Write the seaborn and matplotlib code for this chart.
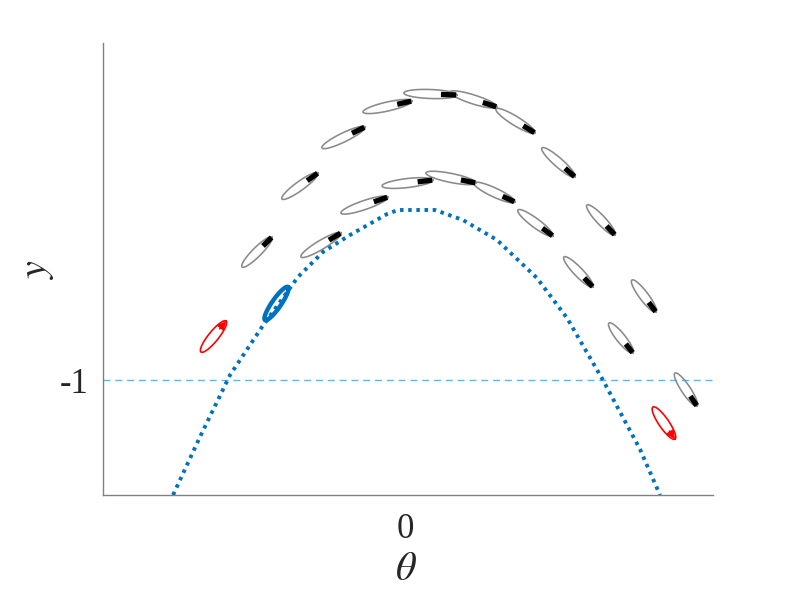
import numpy as np
import pandas as pd
import matplotlib
matplotlib.use("Agg")
import matplotlib.pyplot as plt
import seaborn as sns

# dotted trajectory (theta, y)
curve_theta = [-1.536, -1.358, -1.159, -0.947, -0.709, -0.543, -0.364, -0.119,
               -0.046, 0.199, 0.384, 0.609, 0.874, 1.073, 1.311, 1.556, 1.689]
curve_y = [-1.676, -1.335, -0.971, -0.688, -0.394, -0.247, -0.147, -0.024,
           0.0, 0.0, -0.059, -0.176, -0.400, -0.635, -1.0, -1.406, -1.676]

# gray ellipses: tail end -> black tip end
outer_tail = [(-1.079, -0.335), (-0.815, 0.065), (-0.550, 0.365), (-0.278, 0.576),
              (-0.007, 0.688), (0.298, 0.694), (0.603, 0.594), (0.907, 0.365),
              (1.205, 0.029), (1.503, -0.412), (1.788, -0.959)]
outer_head = [(-0.881, -0.159), (-0.576, 0.218), (-0.265, 0.488), (0.046, 0.641),
              (0.344, 0.676), (0.609, 0.606), (0.861, 0.453), (1.126, 0.194),
              (1.391, -0.147), (1.662, -0.600), (1.934, -1.153)]
inner_tail = [(-0.689, -0.276), (-0.424, -0.018), (-0.152, 0.141), (0.139, 0.218),
              (0.457, 0.159), (0.748, 0.0), (1.053, -0.276), (1.351, -0.665)]
inner_head = [(-0.424, -0.135), (-0.113, 0.076), (0.185, 0.176), (0.470, 0.159),
              (0.728, 0.047), (0.980, -0.153), (1.245, -0.453), (1.510, -0.841)]

# red orbits with direction arrows, blue orbit on the curve
red_tail = [(-1.351, -0.835), (1.642, -1.159)]
red_head = [(-1.185, -0.653), (1.788, -1.347)]
blue_tail = (-0.927, -0.647)
blue_head = (-0.775, -0.453)

y_level = -1.0
x_ticks = [0]
x_ticklabels = ["0"]
y_ticks = [-1]
y_ticklabels = ["-1"]

sns.set_style("white")
plt.rcParams["font.family"] = ["Liberation Serif", "DejaVu Serif"]
plt.rcParams["mathtext.fontset"] = "stix"

fig = plt.figure(figsize=(7.89, 5.92), dpi=100)
ax = fig.add_axes([103 / 789, 1 - 495 / 592, 610 / 789, 452 / 592])
ax.set_xlim(-2.0, 2.04)
ax.set_ylim(-1.676, 0.982)


def draw_ellipse(tail, head, width_px, color, lw, tip=False, zorder=2):
    T = ax.transData
    p0 = T.transform(tail)
    p1 = T.transform(head)
    c = (p0 + p1) / 2
    d = p1 - p0
    L = np.hypot(*d)
    u = d / L
    n = np.array([-u[1], u[0]])
    t = np.linspace(0, 2 * np.pi, 120)
    pts = c + np.outer(np.cos(t) * L / 2, u) + np.outer(np.sin(t) * width_px / 2, n)
    data = T.inverted().transform(pts)
    ax.plot(data[:, 0], data[:, 1], color=color, lw=lw, zorder=zorder)
    if tip:
        seg = T.inverted().transform([p0 + 0.70 * d, p0 + 0.985 * d])
        ax.plot(seg[:, 0], seg[:, 1], color="black", lw=3.8,
                solid_capstyle="butt", zorder=zorder + 0.1)


for tl, hd in zip(outer_tail + inner_tail, outer_head + inner_head):
    draw_ellipse(tl, hd, 9, "#8a8a8a", 1.15, tip=True)

for tl, hd in zip(red_tail, red_head):
    draw_ellipse(tl, hd, 10, "#ff0000", 1.2)
    T = ax.transData
    p0, p1 = T.transform(tl), T.transform(hd)
    start = T.inverted().transform(p0 + 0.75 * (p1 - p0))
    ax.annotate("", xy=hd, xytext=start,
                arrowprops=dict(arrowstyle="-|>", color="#ff0000", lw=1.2,
                                mutation_scale=12, shrinkA=0, shrinkB=0))

ax.axhline(y_level, color="#4dbeee", lw=1.0, dashes=(5, 3.5), zorder=1)

curve = pd.DataFrame({"theta": curve_theta, "y": curve_y})
sns.lineplot(data=curve, x="theta", y="y", sort=False, color="#0072bd",
             lw=2.8, dashes=False, ax=ax, zorder=3)
ax.lines[-1].set_dashes((0.9, 1.2))

draw_ellipse(blue_tail, blue_head, 9, "#0072bd", 3.2, zorder=4)

sns.despine(ax=ax)
for s in ["left", "bottom"]:
    ax.spines[s].set_color("#808080")
    ax.spines[s].set_linewidth(1.0)

ax.set_xticks(x_ticks)
ax.set_xticklabels(x_ticklabels)
ax.set_yticks(y_ticks)
ax.set_yticklabels(y_ticklabels)
ax.tick_params(direction="in", length=4, width=1, color="#404040",
               labelsize=25, pad=10, labelcolor="#262626")
ax.tick_params(axis="x", pad=13)

ax.set_xlabel(r"$\theta$", fontsize=29, color="#262626")
ax.set_ylabel(r"$y$", fontsize=29, color="#262626")
ax.xaxis.set_label_coords(0.497, -0.125)
ax.yaxis.set_label_coords(-0.077, 0.5)

fig.savefig("out.png", dpi=100)
